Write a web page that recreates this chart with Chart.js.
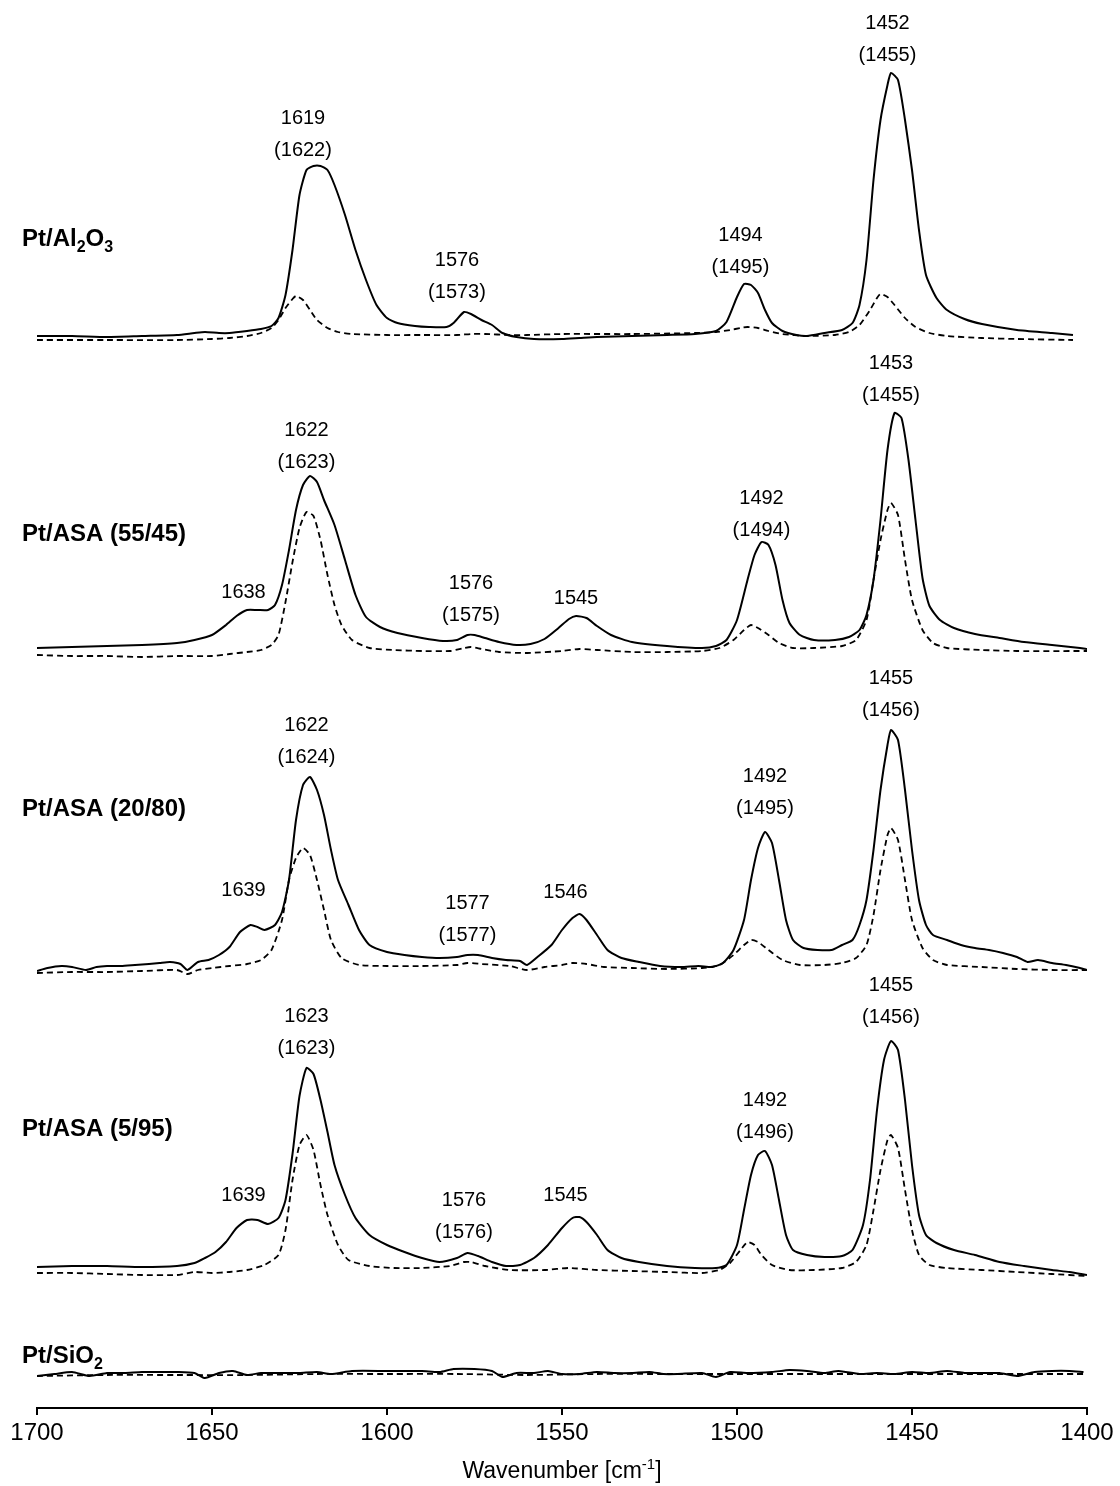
<!DOCTYPE html>
<html>
<head>
<meta charset="utf-8">
<script src="https://cdn.jsdelivr.net/npm/chart.js@4.4.0/dist/chart.umd.min.js"></script>
<style>
  html, body { margin: 0; padding: 0; background: #fff; }
</style>
</head>
<body>
<canvas id="ir-canvas" width="1120" height="1486"></canvas>
<script>
// IR spectra of adsorbed species, solid = sample, dashed = reference
// values are [wavenumber, absorbance a.u. above baseline]

const sampleNames = ['Pt/Al_2O_3', 'Pt/ASA (55/45)', 'Pt/ASA (20/80)', 'Pt/ASA (5/95)', 'Pt/SiO_2']
const stackOffsets = [10.68, 7.52, 4.36, 1.32, 0.32]
const nameLevels = [1.02, 1.23, 1.64, 1.48, 0.21]
const xTicks = [1700, 1650, 1600, 1550, 1500, 1450, 1400]

const al2o3Solid = [
  [1700,0.04],[1690,0.04],[1680,0.03],[1670,0.04],[1660,0.05],[1655,0.07],[1652,0.08],[1648,0.07],
  [1645,0.07],[1640,0.09],[1636,0.11],[1633,0.14],[1631,0.22],[1629,0.45],[1627,0.90],[1625,1.45],
  [1623,1.70],[1621,1.74],[1619,1.74],[1617,1.70],[1615,1.55],[1612,1.25],[1609,0.90],[1606,0.60],
  [1603,0.35],[1600,0.22],[1597,0.17],[1592,0.14],[1588,0.13],[1583,0.13],[1581,0.17],[1578,0.28],
  [1576,0.26],[1573,0.20],[1570,0.15],[1567,0.07],[1563,0.03],[1558,0.01],[1550,0.01],[1545,0.02],
  [1540,0.03],[1530,0.04],[1520,0.05],[1512,0.06],[1506,0.09],[1503,0.18],[1500,0.43],[1498,0.56],
  [1496,0.55],[1494,0.47],[1492,0.30],[1490,0.17],[1487,0.09],[1483,0.05],[1480,0.04],[1475,0.07],
  [1470,0.10],[1467,0.17],[1465,0.35],[1463,0.80],[1461,1.60],[1459,2.20],[1457,2.55],[1456,2.67],
  [1454,2.60],[1452,2.20],[1450,1.70],[1448,1.10],[1446,0.65],[1443,0.42],[1440,0.30],[1435,0.21],
  [1430,0.16],[1420,0.10],[1410,0.07],[1404,0.05]
]
const al2o3Dashed = [
  [1700,0.00],[1680,0.00],[1660,0.00],[1650,0.01],[1645,0.02],[1640,0.04],[1636,0.07],[1633,0.12],
  [1631,0.20],[1629,0.32],[1627,0.41],[1626,0.44],[1624,0.40],[1622,0.30],[1620,0.20],[1617,0.12],
  [1614,0.08],[1610,0.06],[1600,0.05],[1590,0.05],[1580,0.05],[1576,0.06],[1572,0.06],[1565,0.05],
  [1560,0.05],[1550,0.06],[1530,0.06],[1512,0.07],[1506,0.08],[1502,0.10],[1499,0.12],[1497,0.13],
  [1494,0.12],[1491,0.09],[1487,0.06],[1480,0.04],[1472,0.05],[1468,0.08],[1465,0.15],[1462,0.30],
  [1460,0.42],[1459,0.46],[1457,0.43],[1455,0.35],[1452,0.22],[1449,0.13],[1445,0.07],[1440,0.04],
  [1430,0.02],[1420,0.01],[1404,0.00]
]

const asa5545Solid = [
  [1700,0.08],[1690,0.09],[1680,0.10],[1670,0.11],[1660,0.13],[1655,0.16],[1650,0.21],[1646,0.31],
  [1643,0.40],[1640,0.46],[1637,0.46],[1634,0.46],[1632,0.51],[1630,0.71],[1628,1.06],[1626,1.46],
  [1624,1.71],[1622,1.80],[1620,1.74],[1618,1.56],[1615,1.31],[1612,0.96],[1609,0.61],[1606,0.39],
  [1602,0.29],[1597,0.23],[1590,0.18],[1584,0.15],[1580,0.16],[1577,0.21],[1575,0.21],[1572,0.18],
  [1568,0.14],[1563,0.11],[1559,0.12],[1555,0.17],[1551,0.28],[1548,0.37],[1546,0.40],[1543,0.38],
  [1540,0.30],[1536,0.21],[1530,0.14],[1520,0.10],[1510,0.08],[1506,0.10],[1503,0.16],[1500,0.36],
  [1497,0.76],[1495,1.01],[1493,1.14],[1491,1.11],[1489,0.91],[1487,0.56],[1485,0.33],[1482,0.21],
  [1478,0.16],[1472,0.16],[1468,0.19],[1465,0.26],[1463,0.41],[1461,0.76],[1459,1.36],[1457,2.06],
  [1455,2.43],[1453,2.38],[1451,1.96],[1449,1.36],[1447,0.78],[1445,0.50],[1442,0.36],[1438,0.28],
  [1432,0.22],[1425,0.18],[1418,0.14],[1410,0.11],[1402,0.08],[1400,0.07]
]
const asa5545Dashed = [
  [1700,0.01],[1690,0.00],[1680,0.00],[1670,-0.01],[1660,0.00],[1650,0.00],[1645,0.02],[1640,0.04],
  [1636,0.06],[1633,0.11],[1631,0.21],[1629,0.54],[1627,0.94],[1625,1.28],[1623,1.44],[1621,1.40],
  [1619,1.16],[1617,0.81],[1615,0.51],[1613,0.31],[1610,0.16],[1605,0.08],[1598,0.06],[1590,0.05],
  [1582,0.05],[1578,0.08],[1576,0.09],[1573,0.07],[1568,0.04],[1560,0.03],[1550,0.05],[1545,0.07],
  [1540,0.06],[1530,0.04],[1520,0.04],[1510,0.05],[1505,0.08],[1501,0.16],[1498,0.26],[1496,0.31],
  [1494,0.28],[1491,0.21],[1488,0.13],[1484,0.08],[1478,0.08],[1470,0.10],[1466,0.16],[1463,0.36],
  [1461,0.76],[1459,1.16],[1457,1.46],[1456,1.53],[1454,1.41],[1452,0.96],[1450,0.56],[1447,0.26],
  [1444,0.13],[1440,0.08],[1430,0.06],[1420,0.05],[1400,0.05]
]

const asa2080Solid = [
  [1700,0.01],[1697,0.04],[1693,0.06],[1690,0.05],[1686,0.02],[1683,0.05],[1680,0.06],[1676,0.06],
  [1672,0.07],[1668,0.08],[1665,0.09],[1662,0.10],[1659,0.08],[1657,0.02],[1654,0.10],[1651,0.12],
  [1648,0.17],[1645,0.25],[1642,0.40],[1639,0.47],[1637,0.45],[1635,0.42],[1632,0.47],[1630,0.60],
  [1628,0.92],[1626,1.52],[1624,1.87],[1622,1.95],[1620,1.82],[1618,1.57],[1616,1.22],[1614,0.92],
  [1611,0.67],[1608,0.42],[1605,0.27],[1600,0.20],[1595,0.17],[1590,0.15],[1585,0.14],[1580,0.15],
  [1577,0.17],[1574,0.17],[1570,0.14],[1566,0.12],[1562,0.11],[1560,0.07],[1557,0.15],[1553,0.27],
  [1550,0.42],[1547,0.54],[1545,0.58],[1543,0.52],[1540,0.37],[1537,0.22],[1533,0.14],[1528,0.10],
  [1522,0.06],[1516,0.05],[1511,0.06],[1507,0.05],[1504,0.09],[1501,0.22],[1498,0.52],[1496,0.92],
  [1494,1.24],[1492,1.40],[1490,1.29],[1488,0.92],[1486,0.52],[1484,0.32],[1481,0.24],[1477,0.22],
  [1473,0.22],[1470,0.27],[1467,0.32],[1465,0.47],[1463,0.72],[1461,1.22],[1459,1.82],[1457,2.27],
  [1456,2.42],[1454,2.32],[1452,1.82],[1450,1.22],[1448,0.72],[1446,0.47],[1444,0.37],[1440,0.32],
  [1436,0.27],[1432,0.24],[1428,0.22],[1424,0.19],[1420,0.15],[1417,0.10],[1414,0.12],[1410,0.09],
  [1406,0.07],[1402,0.04],[1400,0.02]
]
const asa2080Dashed = [
  [1700,-0.01],[1690,0.00],[1680,0.00],[1670,0.01],[1660,0.02],[1657,-0.02],[1654,0.02],[1650,0.04],
  [1645,0.06],[1640,0.08],[1636,0.12],[1633,0.22],[1630,0.52],[1628,0.92],[1626,1.14],[1624,1.24],
  [1622,1.17],[1620,0.92],[1618,0.62],[1616,0.32],[1613,0.14],[1608,0.07],[1600,0.06],[1590,0.06],
  [1580,0.07],[1577,0.09],[1573,0.08],[1565,0.06],[1560,0.02],[1555,0.05],[1550,0.07],[1547,0.09],
  [1543,0.08],[1538,0.05],[1530,0.04],[1520,0.03],[1510,0.04],[1505,0.07],[1501,0.17],[1498,0.27],
  [1496,0.32],[1494,0.30],[1491,0.22],[1487,0.12],[1482,0.07],[1475,0.07],[1470,0.09],[1466,0.14],
  [1463,0.27],[1461,0.57],[1459,1.02],[1457,1.37],[1456,1.44],[1454,1.32],[1452,0.92],[1450,0.52],
  [1447,0.24],[1444,0.12],[1440,0.07],[1430,0.05],[1420,0.03],[1410,0.02],[1400,0.02]
]

const asa595Solid = [
  [1700,0.09],[1690,0.10],[1680,0.10],[1670,0.09],[1660,0.10],[1655,0.13],[1652,0.18],[1649,0.24],
  [1646,0.34],[1643,0.48],[1640,0.56],[1637,0.56],[1634,0.52],[1631,0.58],[1629,0.76],[1627,1.22],
  [1625,1.80],[1623,2.08],[1621,2.02],[1619,1.76],[1617,1.44],[1615,1.11],[1612,0.81],[1609,0.58],
  [1605,0.41],[1600,0.31],[1595,0.24],[1590,0.18],[1585,0.14],[1580,0.18],[1577,0.23],[1574,0.20],
  [1570,0.14],[1566,0.10],[1562,0.11],[1558,0.18],[1554,0.31],[1550,0.48],[1547,0.58],[1545,0.59],
  [1543,0.54],[1540,0.41],[1537,0.26],[1533,0.18],[1528,0.14],[1520,0.10],[1512,0.08],[1506,0.08],
  [1503,0.11],[1500,0.31],[1498,0.66],[1496,1.01],[1494,1.21],[1492,1.25],[1490,1.11],[1488,0.76],
  [1486,0.41],[1484,0.26],[1480,0.21],[1475,0.19],[1470,0.20],[1467,0.26],[1464,0.51],[1462,0.96],
  [1460,1.66],[1458,2.16],[1456,2.35],[1454,2.26],[1452,1.76],[1450,1.11],[1448,0.61],[1446,0.41],
  [1443,0.33],[1438,0.26],[1432,0.21],[1425,0.14],[1418,0.10],[1410,0.06],[1405,0.04],[1400,0.01]
]
const asa595Dashed = [
  [1700,0.03],[1690,0.03],[1680,0.02],[1670,0.01],[1660,0.01],[1655,0.04],[1650,0.03],[1645,0.04],
  [1640,0.06],[1635,0.11],[1631,0.21],[1629,0.46],[1627,0.96],[1625,1.31],[1623,1.41],[1621,1.26],
  [1619,0.91],[1617,0.61],[1614,0.31],[1611,0.16],[1605,0.10],[1598,0.08],[1590,0.08],[1582,0.10],
  [1578,0.14],[1576,0.14],[1572,0.10],[1565,0.06],[1555,0.06],[1548,0.08],[1540,0.06],[1530,0.05],
  [1520,0.04],[1510,0.03],[1505,0.06],[1502,0.13],[1499,0.26],[1497,0.34],[1495,0.31],[1493,0.21],
  [1490,0.11],[1485,0.06],[1478,0.06],[1470,0.08],[1466,0.14],[1463,0.31],[1461,0.66],[1459,1.06],
  [1457,1.36],[1456,1.41],[1454,1.28],[1452,0.86],[1450,0.46],[1448,0.21],[1445,0.11],[1440,0.08],
  [1430,0.06],[1420,0.04],[1410,0.02],[1400,0.00]
]

const sio2Solid = [
  [1700,0.00],[1695,0.02],[1690,0.04],[1685,0.00],[1680,0.03],[1675,0.03],[1670,0.04],[1665,0.04],
  [1660,0.04],[1655,0.03],[1652,-0.02],[1648,0.03],[1644,0.05],[1640,0.01],[1636,0.03],[1630,0.03],
  [1625,0.03],[1620,0.04],[1616,0.02],[1610,0.05],[1600,0.05],[1590,0.05],[1585,0.04],[1581,0.07],
  [1575,0.07],[1570,0.05],[1567,-0.01],[1563,0.03],[1558,0.03],[1554,0.05],[1550,0.02],[1545,0.02],
  [1540,0.04],[1535,0.03],[1530,0.03],[1525,0.04],[1521,0.02],[1517,0.02],[1510,0.03],[1506,-0.01],
  [1502,0.04],[1497,0.03],[1490,0.04],[1485,0.06],[1480,0.05],[1475,0.03],[1471,0.05],[1465,0.02],
  [1460,0.03],[1455,0.02],[1450,0.04],[1445,0.03],[1440,0.05],[1435,0.03],[1430,0.03],[1425,0.03],
  [1420,0.00],[1415,0.04],[1410,0.05],[1405,0.05],[1401,0.04]
]
const sio2Dashed = [
  [1700,0.00],[1680,0.01],[1660,0.01],[1640,0.01],[1620,0.02],[1600,0.02],[1580,0.02],[1560,0.01],
  [1540,0.02],[1520,0.02],[1500,0.02],[1480,0.02],[1460,0.02],[1440,0.02],[1420,0.02],[1401,0.02]
]

const solidSeries = [al2o3Solid, asa5545Solid, asa2080Solid, asa595Solid, sio2Solid]
const dashedSeries = [al2o3Dashed, asa5545Dashed, asa2080Dashed, asa595Dashed, sio2Dashed]

// band assignments: [sample index, wavenumber, level a.u., text lines]
const peakLabels = [
  [0, 1624, 1.90, ['1619', '(1622)']],
  [0, 1580, 0.48, ['1576', '(1573)']],
  [0, 1499, 0.73, ['1494', '(1495)']],
  [0, 1457, 2.85, ['1452', '(1455)']],
  [1, 1641, 0.64, ['1638']],
  [1, 1623, 1.94, ['1622', '(1623)']],
  [1, 1576, 0.41, ['1576', '(1575)']],
  [1, 1546, 0.58, ['1545']],
  [1, 1493, 1.26, ['1492', '(1494)']],
  [1, 1456, 2.61, ['1453', '(1455)']],
  [2, 1641, 0.82, ['1639']],
  [2, 1623, 2.15, ['1622', '(1624)']],
  [2, 1577, 0.37, ['1577', '(1577)']],
  [2, 1549, 0.80, ['1546']],
  [2, 1492, 1.64, ['1492', '(1495)']],
  [2, 1456, 2.62, ['1455', '(1456)']],
  [3, 1641, 0.81, ['1639']],
  [3, 1623, 2.28, ['1623', '(1623)']],
  [3, 1578, 0.44, ['1576', '(1576)']],
  [3, 1549, 0.81, ['1545']],
  [3, 1492, 1.44, ['1492', '(1496)']],
  [3, 1456, 2.59, ['1455', '(1456)']]
]

const FONT = 'Arial, "Liberation Sans", sans-serif'

// draws text with _x subscripts and ^{..} superscripts
function drawRich(ctx, markup, x, y, size, bold, align)
{
    let runs = []
    let buf = ''
    let i = 0
    while (i < markup.length) {
        let c = markup[i]
        if (c === '_') {
            if (buf) runs.push({t: buf, k: 0})
            buf = ''
            runs.push({t: markup[i + 1], k: 1})
            i += 2
        } else if (c === '^' && markup[i + 1] === '{') {
            let end = markup.indexOf('}', i)
            if (buf) runs.push({t: buf, k: 0})
            buf = ''
            runs.push({t: markup.slice(i + 2, end), k: -1})
            i = end + 1
        } else {
            buf += c
            i++
        }
    }
    if (buf) runs.push({t: buf, k: 0})

    let w = bold ? 'bold ' : ''
    let small = Math.round(size * 0.66)
    let total = 0
    runs.forEach(r => {
        ctx.font = w + (r.k === 0 ? size : small) + 'px ' + FONT
        r.w = ctx.measureText(r.t).width
        total += r.w
    })
    let cx = align === 'center' ? x - total / 2 : x
    ctx.textAlign = 'left'
    ctx.textBaseline = 'alphabetic'
    runs.forEach(r => {
        ctx.font = w + (r.k === 0 ? size : small) + 'px ' + FONT
        let dy = r.k === 1 ? size * 0.25 : (r.k === -1 ? -size * 0.38 : 0)
        ctx.fillText(r.t, cx, y + dy)
        cx += r.w
    })
}

const labelPlugin = {
    id: 'spectraLabels',
    afterDraw(chart) {
        const ctx = chart.ctx
        const xs = chart.scales.x
        const ys = chart.scales.y
        const area = chart.chartArea
        ctx.save()
        ctx.fillStyle = '#000'

        // sample names
        sampleNames.forEach((name, i) => {
            let y = ys.getPixelForValue(stackOffsets[i] + nameLevels[i])
            drawRich(ctx, name, 22, y + 8, 24, true, 'left')
        })

        // band positions above the peaks
        ctx.font = '20px ' + FONT
        ctx.textAlign = 'center'
        ctx.textBaseline = 'middle'
        peakLabels.forEach(p => {
            let px = xs.getPixelForValue(p[1])
            let py = ys.getPixelForValue(stackOffsets[p[0]] + p[2])
            let lines = p[3]
            lines.forEach((t, j) => {
                ctx.fillText(t, px, py - (lines.length - 1 - j) * 32)
            })
        })

        // axis title
        drawRich(ctx, 'Wavenumber [cm^{-1}]', (area.left + area.right) / 2, area.bottom + 70, 23, false, 'center')
        ctx.restore()
    }
}

function toPoints(series, offset)
{
    return series.map(p => ({x: p[0], y: p[1] + offset}))
}

let datasets = []
for (let i = 0; i < sampleNames.length; ++i) {
    datasets.push({
        data: toPoints(dashedSeries[i], stackOffsets[i]),
        borderColor: '#000',
        borderWidth: 1.8,
        borderDash: [6, 4],
        pointRadius: 0,
        tension: 0.2
    })
    datasets.push({
        data: toPoints(solidSeries[i], stackOffsets[i]),
        borderColor: '#000',
        borderWidth: 2,
        pointRadius: 0,
        tension: 0.2
    })
}

let canvas = document.getElementById('ir-canvas')
let chart = new Chart(canvas.getContext('2d'), {
    type: 'line',
    data: { datasets: datasets },
    options: {
        responsive: false,
        devicePixelRatio: 1,
        animation: false,
        layout: { padding: { left: 37, right: 33, top: 0, bottom: 0 } },
        plugins: {
            legend: { display: false },
            tooltip: { enabled: false }
        },
        scales: {
            x: {
                type: 'linear',
                reverse: true,
                min: 1400,
                max: 1700,
                afterBuildTicks: (scale) => {
                    scale.ticks = xTicks.map(v => ({value: v}))
                },
                afterFit: (scale) => {
                    scale.height = 78
                },
                ticks: {
                    color: '#000',
                    font: { family: FONT, size: 24 },
                    padding: 4,
                    maxRotation: 0,
                    callback: (value) => String(value)
                },
                grid: {
                    display: true,
                    drawOnChartArea: false,
                    drawTicks: true,
                    tickLength: 7,
                    color: '#000',
                    lineWidth: 2
                },
                border: { display: true, color: '#000', width: 2 }
            },
            y: {
                display: false,
                min: 0,
                max: 14.08
            }
        }
    },
    plugins: [labelPlugin]
})
</script>
</body>
</html>
